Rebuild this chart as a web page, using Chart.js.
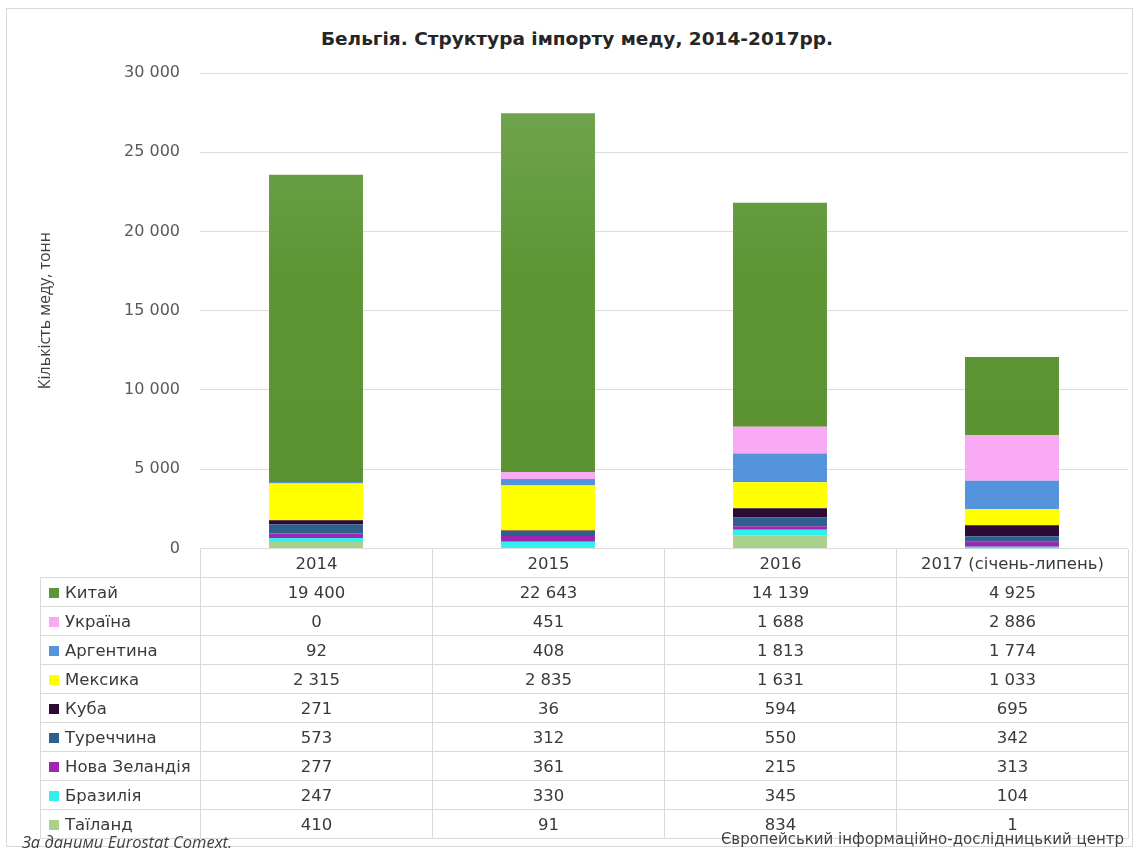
<!DOCTYPE html>
<html>
<head>
<meta charset="utf-8">
<script src="https://cdn.jsdelivr.net/npm/chart.js@4"></script>
<style>
  body { margin: 0; background: #fff; }
  #wrap { position: relative; width: 1136px; height: 850px; overflow: hidden; }
  .frame { position: absolute; left: 6px; top: 8px; width: 1125px; height: 837px; border: 1px solid #d9d9d9; }
  .title { position: absolute; left: 0; width: 1154px; top: 28px; text-align: center;
           font-family: "DejaVu Sans", sans-serif; font-weight: bold; font-size: 18.5px; color: #262626; }
  #chartBox { position: absolute; left: 0; top: 0; width: 1136px; height: 578px; }
  #tbl { position: absolute; left: 40px; top: 549px; border-collapse: collapse; table-layout: fixed;
         font-family: "DejaVu Sans", sans-serif; font-size: 16.5px; color: #3a3a3a; }
  #tbl td { height: 28px; padding: 0; border: 1px solid #d9d9d9; text-align: center; white-space: nowrap; }
  #tbl td.lbl { text-align: left; padding-left: 8px; }
  #tbl tr.head td.blank { border-top: none; border-left: none; }
  #tbl tr.head td { border-top: none; }
  .mk { display: inline-block; width: 10px; height: 10px; margin-right: 6px; vertical-align: 0; }
  .src { position: absolute; left: 22px; top: 830px; font-family: "Open Sans", sans-serif; font-style: italic; font-size: 16.5px; color: #404040; }
  .org { position: absolute; right: 12px; top: 830px; font-family: "DejaVu Sans", sans-serif; font-size: 15px; color: #404040; }
</style>
</head>
<body>
<div id="wrap">
  <div class="frame"></div>
  <div class="title">Бельгія. Структура імпорту меду, 2014-2017рр.</div>
  <div id="chartBox"><canvas id="c" width="1136" height="578"></canvas></div>
  <table id="tbl"></table>
  <div class="src">За даними Eurostat Comext.</div>
  <div class="org">Європейський інформаційно-дослідницький центр</div>
</div>
<script>
const categories = ['2014', '2015', '2016', '2017 (січень-липень)'];

// rows in table order (top to bottom); stacked bottom-up in reverse
const seriesNames = ['Китай', 'Україна', 'Аргентина', 'Мексика', 'Куба', 'Туреччина', 'Нова Зеландія', 'Бразилія', 'Таїланд'];
const china      = [19400, 22643, 14139, 4925];
const ukraine    = [0, 451, 1688, 2886];
const argentina  = [92, 408, 1813, 1774];
const mexico     = [2315, 2835, 1631, 1033];
const cuba       = [271, 36, 594, 695];
const turkey     = [573, 312, 550, 342];
const newZealand = [277, 361, 215, 313];
const brazil     = [247, 330, 345, 104];
const thailand   = [410, 91, 834, 1];
const seriesValues = [china, ukraine, argentina, mexico, cuba, turkey, newZealand, brazil, thailand];
const seriesColors = ['#5e9636', '#f9aaf5', '#5394dc', '#ffff00', '#2b0a33', '#2f5f8f', '#9c28b0', '#33eeee', '#a9d18e'];

const yTicks = [0, 5000, 10000, 15000, 20000, 25000, 30000];

const fmt = n => String(n).replace(/\B(?=(\d{3})+(?!\d))/g, ' ');

// data table under the plot
const tbl = document.getElementById('tbl');
let html = '<colgroup><col style="width:160px">' + categories.map(() => '<col style="width:232px">').join('') + '</colgroup>';
html += '<tr class="head"><td class="blank"></td>' + categories.map(c => '<td>' + c + '</td>').join('') + '</tr>';
seriesNames.forEach((name, i) => {
  html += '<tr><td class="lbl"><span class="mk" style="background:' + seriesColors[i] + '"></span>' + name + '</td>' +
    seriesValues[i].map(v => '<td>' + fmt(v) + '</td>').join('') + '</tr>';
});
tbl.innerHTML = html;

// China bars get a slight lighter top, like the original
function chinaFill(ctx) {
  const area = ctx.chart.chartArea;
  if (!area) return seriesColors[0];
  const g = ctx.chart.ctx.createLinearGradient(0, area.bottom, 0, area.top);
  g.addColorStop(0, '#5a9232');
  g.addColorStop(0.6, '#5e9636');
  g.addColorStop(1, '#74a752');
  return g;
}

const datasets = seriesNames.map((name, i) => ({
  label: name,
  data: seriesValues[i],
  backgroundColor: i === 0 ? chinaFill : seriesColors[i],
  borderWidth: 0,
  barPercentage: 0.405,
  categoryPercentage: 1
})).reverse();

new Chart(document.getElementById('c'), {
  type: 'bar',
  data: { labels: categories, datasets: datasets },
  options: {
    responsive: false,
    animation: false,
    layout: { padding: { left: 0, right: 8, top: 73, bottom: 11 } },
    plugins: {
      legend: { display: false },
      tooltip: { enabled: false },
      title: { display: false }
    },
    scales: {
      x: { stacked: true, display: false },
      y: {
        stacked: true,
        min: 0,
        max: 30000,
        afterBuildTicks: s => { s.ticks = yTicks.map(v => ({ value: v })); },
        afterFit: s => { s.width = 200; },
        border: { display: false },
        grid: { color: '#dcdcdc', drawTicks: false },
        ticks: {
          padding: 20,
          color: '#595959',
          font: { family: 'DejaVu Sans', size: 16 },
          callback: v => fmt(v)
        },
        title: {
          display: true,
          text: 'Кількість меду, тонн',
          color: '#404040',
          font: { family: 'Open Sans', size: 16 },
          padding: { top: 36, bottom: 0 }
        }
      }
    }
  }
});
</script>
</body>
</html>
